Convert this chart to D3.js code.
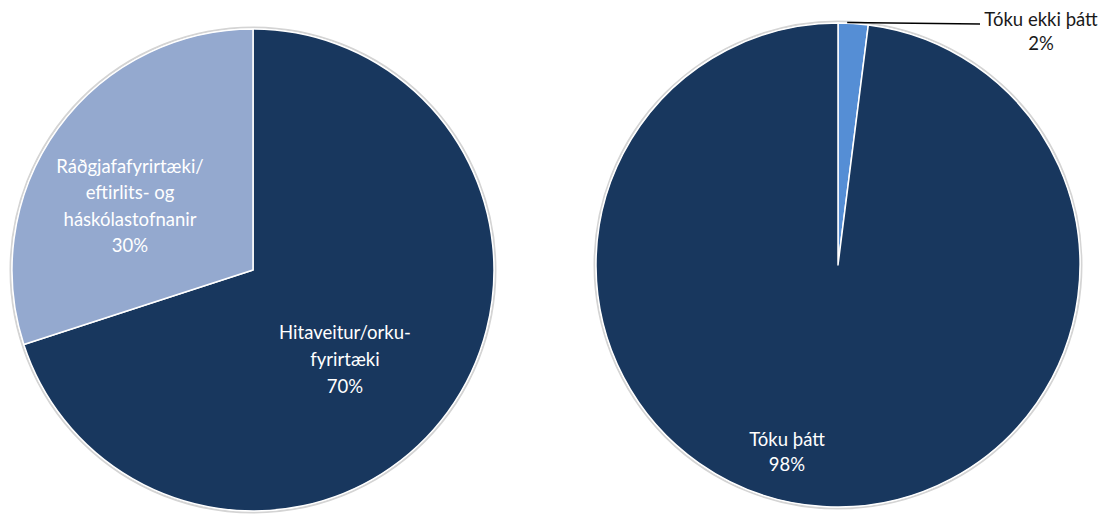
<!DOCTYPE html>
<html>
<head>
<meta charset="utf-8">
<script src="https://cdnjs.cloudflare.com/ajax/libs/d3/7.8.5/d3.min.js"></script>
<style>
  body { margin: 0; background: #fff; }
  svg { display: block; }
  text { font-family: Lato, "Open Sans", sans-serif; }
</style>
</head>
<body>
<svg id="chart" width="1104" height="518"></svg>
<script>
// left pie: type of organisation
var leftNames = [["Hitaveitur/orku-", "fyrirtæki"], ["Ráðgjafafyrirtæki/", "eftirlits- og", "háskólastofnanir"]];
var leftValues = [70, 30];
var leftColors = ["#18375e", "#94a9cf"];

// right pie: participation
var rightNames = [["Tóku ekki þátt"], ["Tóku þátt"]];
var rightValues = [2, 98];
var rightColors = ["#558ed5", "#18375e"];

var svg = d3.select("#chart");
var pie = d3.pie().sort(null).value(function(d) { return d; });

function drawPie(cx, cy, r, values, names, colors, labels) {
  var g = svg.append("g").attr("transform", "translate(" + cx + "," + cy + ")");
  var arc = d3.arc().innerRadius(0).outerRadius(r);

  // soft grey rim like the original
  g.append("circle").attr("r", r + 1.5).attr("fill", "none")
    .attr("stroke", "#d4d4d4").attr("stroke-width", 2);

  var arcs = pie(values);
  g.selectAll("path").data(arcs).enter().append("path")
    .attr("d", arc)
    .attr("fill", function(d, i) { return colors[i]; })
    .attr("stroke", "#fff")
    .attr("stroke-width", 1.5)
    .attr("stroke-linejoin", "round");

  arcs.forEach(function(d, i) {
    var lb = labels[i];
    var lines = names[i].concat([d3.format(".0f")(values[i]) + "%"]);
    var t = g.append("text")
      .attr("text-anchor", "middle")
      .attr("fill", lb.color)
      .attr("font-size", lb.size);
    var y0 = lb.y - (lines.length - 1) * lb.lh / 2;
    lines.forEach(function(s, k) {
      t.append("tspan").attr("x", lb.x).attr("y", y0 + k * lb.lh)
        .attr("dy", "0.35em").text(s);
    });
    if (lb.leader) {
      var p = d3.arc().innerRadius(r).outerRadius(r).centroid(d);
      g.append("polyline")
        .attr("points", [[p[0] - 6, p[1] - 1], lb.leader].map(function(q) { return q.join(","); }).join(" "))
        .attr("fill", "none").attr("stroke", "#000").attr("stroke-width", 1.3);
    }
  });
}

drawPie(253, 270, 241, leftValues, leftNames, leftColors, [
  { x: 92, y: 90, lh: 27, size: 18.5, color: "#fff" },
  { x: -123, y: -64, lh: 26.5, size: 18.5, color: "#fff" }
]);

drawPie(838, 265, 242, rightValues, rightNames, rightColors, [
  { x: 203, y: -233, lh: 24, size: 18.5, color: "#1a1a1a", leader: [142, -241] },
  { x: -51, y: 187, lh: 25, size: 18.5, color: "#fff" }
]);
</script>
</body>
</html>
